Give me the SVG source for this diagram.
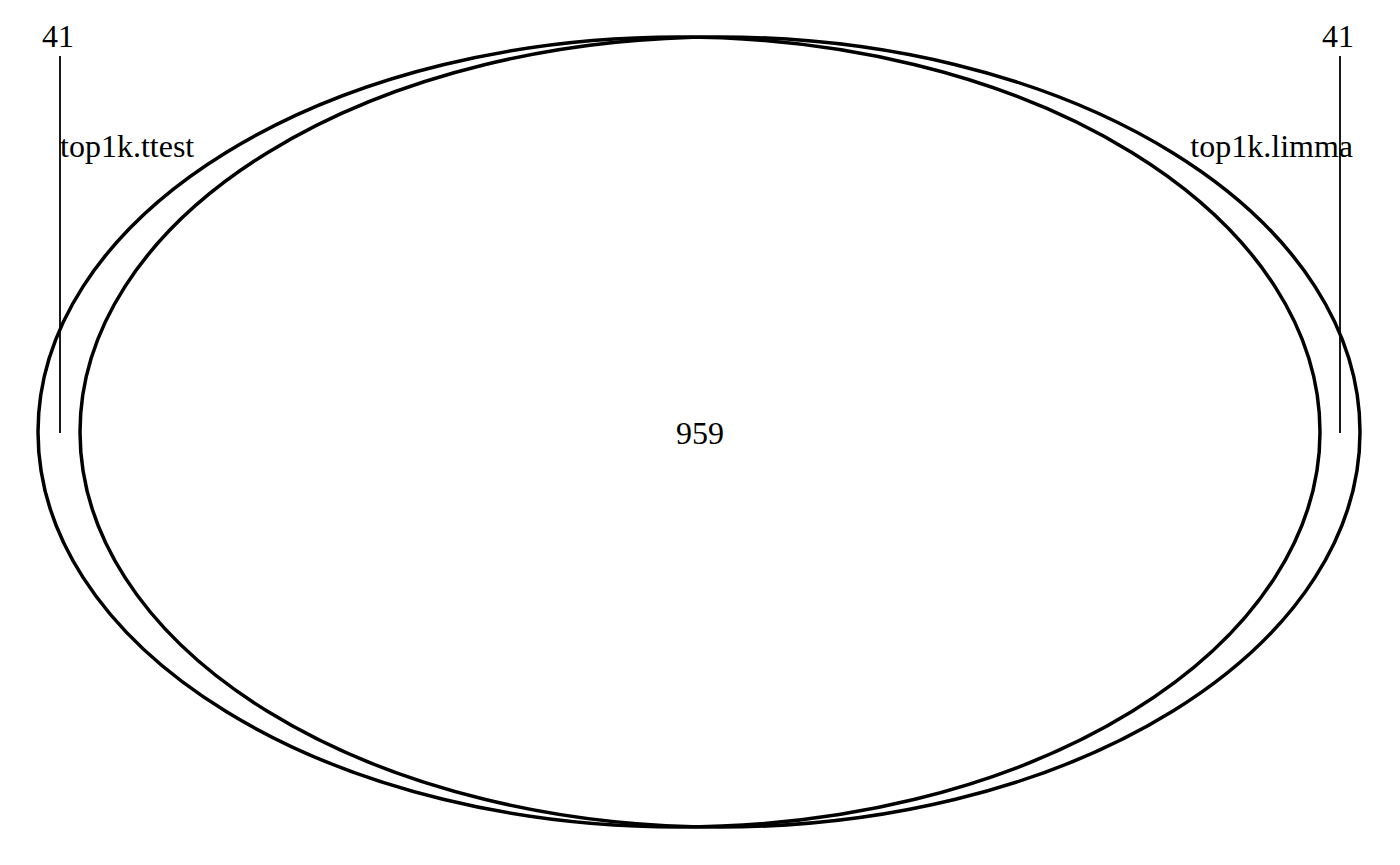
<svg xmlns="http://www.w3.org/2000/svg" width="1400" height="865" viewBox="0 0 1400 865">
<style>
text{font-family:"Liberation Serif","Times New Roman",serif;font-size:32px;fill:#000}
.set{fill:none;stroke:#000;stroke-width:3.5}
.lead{stroke:#000;stroke-width:1.8}
</style>
<rect width="1400" height="865" fill="#fff"/>
<g id="set-ttest">
<ellipse class="set" cx="679" cy="432" rx="641" ry="395"/>
<text x="60" y="157">top1k.ttest</text>
</g>
<g id="set-limma">
<ellipse class="set" cx="720" cy="432" rx="640" ry="395"/>
<text x="1353" y="157" text-anchor="end">top1k.limma</text>
</g>
<g id="connectors">
<line class="lead" x1="60" y1="56" x2="60" y2="433"/>
<line class="lead" x1="1340" y1="56" x2="1340" y2="433"/>
</g>
<g id="counts">
<text x="58" y="47" text-anchor="middle">41</text>
<text x="1338" y="47" text-anchor="middle">41</text>
<text x="700" y="444" text-anchor="middle">959</text>
</g>
</svg>
